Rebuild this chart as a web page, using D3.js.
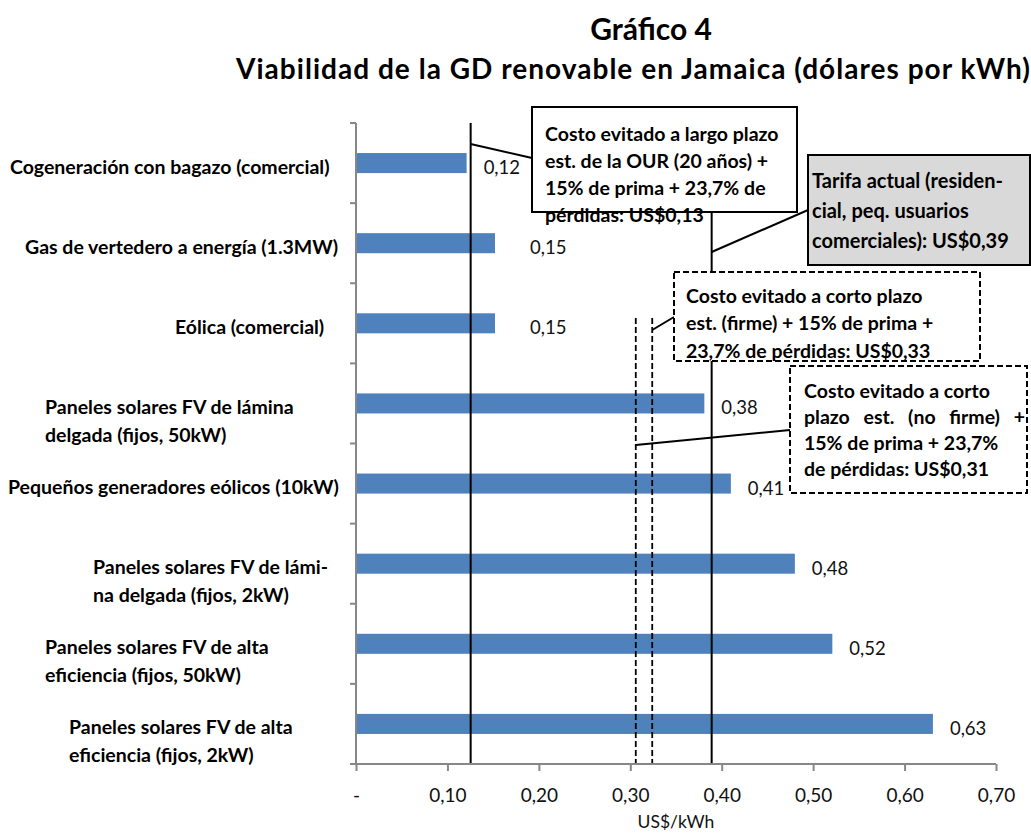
<!DOCTYPE html>
<html>
<head>
<meta charset="utf-8">
<script src="https://cdn.jsdelivr.net/npm/d3@7"></script>
<style>
  html, body { margin: 0; padding: 0; background: #fff; }
  svg { display: block; }
  text { font-family: Lato, "Open Sans", sans-serif; }
</style>
</head>
<body>
<div id="chart"></div>
<script>
// ---------------- DATA ----------------
const titleLines = ["Gráfico 4", "Viabilidad de la GD renovable en Jamaica (dólares por kWh)"];
const categories = [
  ["Cogeneración con bagazo (comercial)"],
  ["Gas de vertedero a energía (1.3MW)"],
  ["Eólica (comercial)"],
  ["Paneles solares FV de lámina", "delgada (fijos, 50kW)"],
  ["Pequeños generadores eólicos (10kW)"],
  ["Paneles solares FV de lámi-", "na delgada (fijos, 2kW)"],
  ["Paneles solares FV de alta", "eficiencia (fijos, 50kW)"],
  ["Paneles solares FV de alta", "eficiencia (fijos, 2kW)"]
];
const costs = [0.121, 0.152, 0.152, 0.381, 0.41, 0.48, 0.521, 0.631];
const xTicks = [0, 0.1, 0.2, 0.3, 0.4, 0.5, 0.6, 0.7];
const xAxisTitle = "US$/kWh";
// reference thresholds (US$/kWh)
const refOUR = 0.1254;
const refTarifa = 0.389;
const refNoFirme = 0.306;
const refFirme = 0.324;
const noteOUR = ["Costo evitado a largo plazo", "est. de la OUR (20 años) +", "15% de prima + 23,7% de", "pérdidas: US$0,13"];
const noteTarifa = ["Tarifa actual (residen-", "cial, peq. usuarios", "comerciales): US$0,39"];
const noteFirme = ["Costo evitado a corto plazo", "est. (firme) + 15% de prima +", "23,7% de pérdidas: US$0,33"];
const noteNoFirme = ["Costo evitado a corto", "plazo est. (no firme) +", "15% de prima +  23,7%", "de pérdidas: US$0,31"];

// ---------------- LAYOUT ----------------
const W = 1031, H = 834;
const labelLeft = [10, 25, 175, 45, 8, 93, 45, 69];
const valueNudge = [0, 18, 18, 0, 0, 0, 0, 0];

const svg = d3.select("#chart").append("svg").attr("width", W).attr("height", H);

const x = d3.scaleLinear().domain([0, 0.7]).range([356, 996]);
const y = d3.scaleBand().domain(d3.range(categories.length)).range([123, 764])
  .paddingInner(0.75).paddingOuter(0.375);
const step = y.step();
const yTop = 123, yBot = 764;

const axisColor = "#878787";
const barColor = "#4f81bd";

function fitWidth(t, target) {
  const s = t.text();
  const natural = t.node().getComputedTextLength();
  if (s.length > 1) t.attr("letter-spacing", (target - natural) / (s.length - 1));
}

// Titles
svg.append("text").attr("x", 651).attr("y", 40).attr("text-anchor", "middle")
  .attr("font-size", 30).attr("font-weight", 700).text(titleLines[0]);
const t2 = svg.append("text").attr("x", 236).attr("y", 79)
  .attr("font-size", 28).attr("font-weight", 700).text(titleLines[1]);
fitWidth(t2, 794);

// Bars
svg.append("g").selectAll("rect").data(costs).join("rect")
  .attr("x", x(0)).attr("y", (d, i) => y(i))
  .attr("width", d => x(d) - x(0)).attr("height", y.bandwidth())
  .attr("fill", barColor);

// Value labels
const fmt = v => d3.format(".2f")(v).replace(".", ",");
svg.append("g").selectAll("text").data(costs).join("text")
  .attr("x", (d, i) => x(d) + 17 + valueNudge[i])
  .attr("y", (d, i) => y(i) + y.bandwidth() / 2 + 4)
  .attr("dominant-baseline", "central")
  .attr("font-size", 18.5).attr("fill", "#111")
  .text(d => fmt(d));

// Reference lines
const refG = svg.append("g");
refG.append("line").attr("x1", x(refOUR)).attr("x2", x(refOUR)).attr("y1", yTop).attr("y2", yBot)
  .attr("stroke", "#000").attr("stroke-width", 2);
refG.append("line").attr("x1", x(refTarifa)).attr("x2", x(refTarifa)).attr("y1", yTop).attr("y2", yBot)
  .attr("stroke", "#000").attr("stroke-width", 2);
[refNoFirme, refFirme].forEach(v => {
  refG.append("line").attr("x1", x(v)).attr("x2", x(v)).attr("y1", 318).attr("y2", yBot)
    .attr("stroke", "#000").attr("stroke-width", 1.8).attr("stroke-dasharray", "6,3");
});

// Y axis
const axG = svg.append("g");
axG.append("line").attr("x1", x(0)).attr("x2", x(0)).attr("y1", yTop).attr("y2", yBot)
  .attr("stroke", axisColor).attr("stroke-width", 2);
d3.range(categories.length + 1).forEach(i => {
  const yy = yTop + i * step;
  axG.append("line").attr("x1", x(0) - 6).attr("x2", x(0)).attr("y1", yy).attr("y2", yy)
    .attr("stroke", axisColor).attr("stroke-width", 2);
});

// X axis
const xAxis = d3.axisBottom(x).tickValues(xTicks).tickSize(7).tickPadding(18)
  .tickFormat(d => d === 0 ? "-" : fmt(d));
const xg = svg.append("g").attr("transform", `translate(0,${yBot})`).call(xAxis);
xg.select(".domain").attr("stroke", axisColor).attr("stroke-width", 2)
  .attr("d", `M${x(0) - 6},0H${x(0.7)}`);
xg.selectAll(".tick line").attr("stroke", axisColor).attr("stroke-width", 2);
xg.selectAll(".tick text").attr("font-size", 19).attr("fill", "#111")
  .attr("font-family", "Lato, sans-serif");

svg.append("text").attr("x", x(0.35)).attr("y", 828).attr("text-anchor", "middle")
  .attr("font-size", 17.5).attr("fill", "#111").text(xAxisTitle);

// Category labels
const catG = svg.append("g");
categories.forEach((lines, i) => {
  const cy = y(i) + y.bandwidth() / 2 + 3;
  lines.forEach((ln, j) => {
    catG.append("text").attr("x", labelLeft[i]).attr("y", cy + j * 28)
      .attr("dominant-baseline", "central")
      .attr("font-size", 19.5).attr("font-weight", 700).attr("fill", "#000").text(ln);
  });
});

// Callouts
function callout(box, lines, opts) {
  const g = svg.append("g");
  g.append("line").attr("x1", opts.lead[0]).attr("y1", opts.lead[1])
    .attr("x2", opts.lead[2]).attr("y2", opts.lead[3])
    .attr("stroke", "#000").attr("stroke-width", 2);
  g.append("rect").attr("x", box[0]).attr("y", box[1]).attr("width", box[2]).attr("height", box[3])
    .attr("fill", opts.fill || "#fff").attr("stroke", "#000").attr("stroke-width", 2)
    .attr("stroke-dasharray", opts.dash || null);
  lines.forEach((ln, j) => {
    const t = g.append("text").attr("x", opts.tx).attr("y", opts.ty + j * opts.lh)
      .attr("dominant-baseline", "central")
      .attr("font-size", opts.fs || 19.5).attr("font-weight", 700).attr("fill", "#000").text(ln);
    if (opts.justify && opts.justify.includes(j)) {
      const natural = t.node().getComputedTextLength();
      const spaces = (ln.match(/ /g) || []).length;
      const target = box[0] + box[2] - opts.tx - 2;
      if (spaces > 0 && target > natural) t.attr("word-spacing", (target - natural) / spaces);
    }
  });
}
callout([532, 107, 265, 105], noteOUR,
  { lead: [x(refOUR), 144, 532, 158], tx: 545, ty: 133, lh: 27 });
callout([808, 155, 222, 110], noteTarifa,
  { lead: [x(refTarifa), 252, 808, 210], tx: 812, ty: 180, lh: 30, fill: "#d9d9d9", fs: 20 });
callout([674, 272, 306, 89], noteFirme,
  { lead: [x(refFirme), 330, 674, 317], tx: 686, ty: 295, lh: 27.5, dash: "6,3" });
callout([790, 366, 237, 127], noteNoFirme,
  { lead: [x(refNoFirme), 445, 790, 430], tx: 804, ty: 390, lh: 26, dash: "6,3", justify: [1] });
</script>
</body>
</html>
